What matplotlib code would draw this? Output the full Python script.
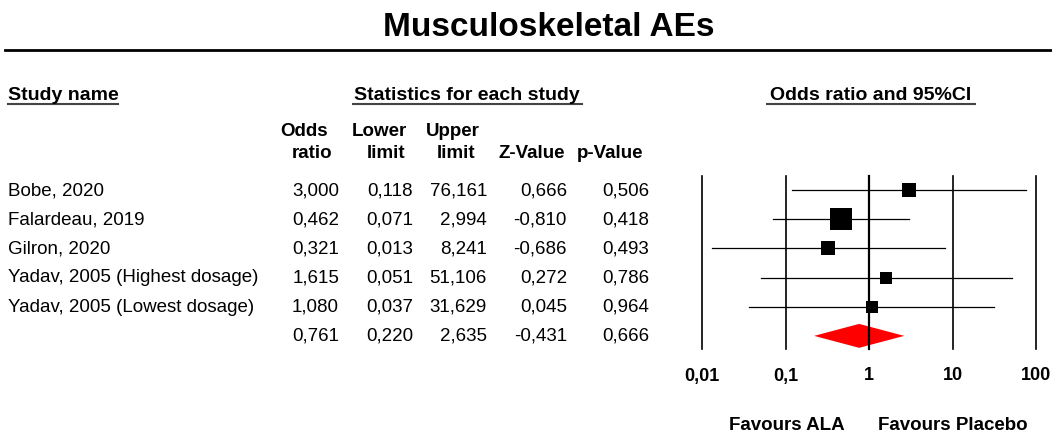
import numpy as np
import matplotlib.pyplot as plt
from matplotlib.transforms import blended_transform_factory

plt.rcParams['font.family'] = ['Liberation Sans', 'DejaVu Sans']

studies = ["Bobe, 2020", "Falardeau, 2019", "Gilron, 2020",
           "Yadav, 2005 (Highest dosage)", "Yadav, 2005 (Lowest dosage)"]
odds = [3.000, 0.462, 0.321, 1.615, 1.080]
lower = [0.118, 0.071, 0.013, 0.051, 0.037]
upper = [76.161, 2.994, 8.241, 51.106, 31.629]
zval = [0.666, -0.810, -0.686, 0.272, 0.045]
pval = [0.506, 0.418, 0.493, 0.786, 0.964]

pooled = [0.761, 0.220, 2.635, -0.431, 0.666]  # OR, lower, upper, Z, p

ticks = [0.01, 0.1, 1, 10, 100]


def fmt(v):
    return f"{v:.3f}".replace('.', ',')


fig = plt.figure(figsize=(10.52, 4.37), dpi=100)

# full-figure axes in pixel units for the table part
base = fig.add_axes([0, 0, 1, 1])
base.set_xlim(0, 1052)
base.set_ylim(437, 0)
base.axis('off')

base.text(549, 28, "Musculoskeletal AEs", fontsize=24, fontweight='bold',
          ha='center', va='center')
base.plot([5, 1052], [50, 50], color='black', lw=2)

# section headers with underlines
hdr_y = 96
base.text(8, hdr_y, "Study name", fontsize=14, fontweight='bold', va='center')
base.plot([8, 118], [104, 104], color='#444444', lw=1.5)
base.text(467, hdr_y, "Statistics for each study", fontsize=14,
          fontweight='bold', ha='center', va='center')
base.plot([353, 582], [104, 104], color='#444444', lw=1.5)
base.text(871, hdr_y, "Odds ratio and 95%CI", fontsize=14,
          fontweight='bold', ha='center', va='center')
base.plot([767, 975], [104, 104], color='#444444', lw=1.5)

# column headers
col_hdr = [("Odds", 304, 131), ("ratio", 312, 154),
           ("Lower", 379, 131), ("limit", 386, 154),
           ("Upper", 453, 131), ("limit", 456, 154),
           ("Z-Value", 532, 154), ("p-Value", 610, 154)]
for txt, x, y in col_hdr:
    base.text(x, y, txt, fontsize=13.5, fontweight='bold', ha='center', va='center')

row_y0, row_dy = 191, 29.0
col_right = [339, 413, 487, 567, 649]

rows = list(zip(odds, lower, upper, zval, pval)) + [tuple(pooled)]
names = studies + [""]
for i, (name, vals) in enumerate(zip(names, rows)):
    y = row_y0 + i * row_dy
    base.text(8, y, name, fontsize=13.5, va='center')
    for x, v in zip(col_right, vals):
        base.text(x, y, fmt(v), fontsize=13.5, ha='right', va='center')

# forest plot
left_px, right_px = 702, 1036
top_px, bot_px = 176, 349
ax = fig.add_axes([left_px / 1052, 1 - bot_px / 437,
                   (right_px - left_px) / 1052, (bot_px - top_px) / 437])
ax.set_xscale('log')
ax.set_xlim(ticks[0], ticks[-1])
ax.set_ylim(5.45, -0.48)
ax.axis('off')

for t in ticks:
    ax.axvline(t, color='black', lw=1.6 if t == 1 else 1.2, clip_on=False)

# box area proportional to inverse-variance weight
se = (np.log(upper) - np.log(lower)) / 3.92
w = 1 / se ** 2
side_pt = 22.5 * np.sqrt(w / w.max()) * 0.72

for i in range(len(studies)):
    ax.plot([lower[i], upper[i]], [i, i], color='black', lw=0.9)
    ax.plot(odds[i], i, marker='s', color='black', ms=side_pt[i], mew=0)

k = len(studies)
h = 0.41
ax.fill([pooled[1], pooled[0], pooled[2], pooled[0]],
        [k, k - h, k, k + h], color='red', lw=0)

trans = blended_transform_factory(ax.transData, base.transData)
for t in ticks:
    base.text(t, 376, f"{t:g}".replace('.', ','), transform=trans, fontsize=13,
              fontweight='bold', ha='center', va='center')

base.text(787, 425, "Favours ALA", fontsize=13.5, fontweight='bold',
          ha='center', va='center')
base.text(953, 425, "Favours Placebo", fontsize=13.5, fontweight='bold',
          ha='center', va='center')

fig.savefig("out.png", dpi=100)
